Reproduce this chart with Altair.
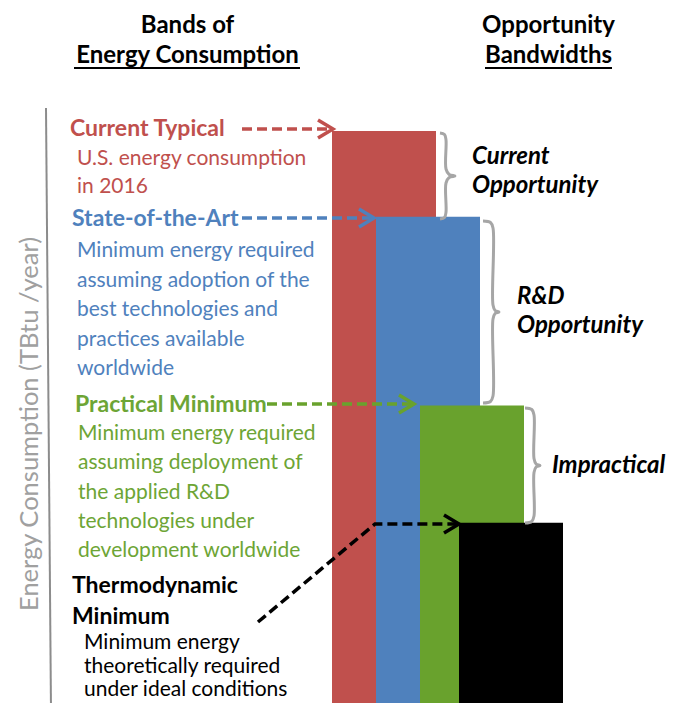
import altair as alt
import pandas as pd

# ---------------- data ----------------
bands = ["Current Typical", "State-of-the-Art", "Practical Minimum", "Thermodynamic Minimum"]
levels = [100, 85, 52, 31.5]          # relative energy consumption (Current Typical = 100)
band_colors = ["#C0504D", "#4F81BD", "#69A22D", "#000000"]
text_colors = ["#C0504D", "#4F81BD", "#6DA535", "#000000"]
band_label_lines = [["Current Typical"], ["State-of-the-Art"], ["Practical Minimum"],
                    ["Thermodynamic", "Minimum"]]
descriptions = [
    ["U.S. energy consumption", "in 2016"],
    ["Minimum energy required", "assuming adoption of the", "best technologies and",
     "practices available", "worldwide"],
    ["Minimum energy required", "assuming deployment of", "the applied R&D",
     "technologies under", "development worldwide"],
    ["Minimum energy", "theoretically required", "under ideal conditions"],
]
opportunities = [["Current", "Opportunity"], ["R&D", "Opportunity"], ["Impractical"]]
headings = [["Bands of", "Energy Consumption"], ["Opportunity", "Bandwidths"]]
axis_title = "Energy Consumption (TBtu /year)"

# ---------------- layout ----------------
FONT = "Lato"
OX, OY = 48, 108            # page position of plot origin
W, H = 623, 595
PX_PER = 5.72               # pixels per level unit
YMAX = H / PX_PER
BAR_LEFT = [332, 376, 420, 459]
BAR_W = 104


def px(x):
    return x - OX


def lv(y):
    return (OY + H - y) / PX_PER


xs = alt.Scale(domain=[0, W], nice=False, zero=False)
ys = alt.Scale(domain=[0, YMAX], nice=False, zero=False)

# bars
bars_df = pd.DataFrame({
    "band": bands,
    "level": levels,
    "base": [0] * 4,
    "x0": [px(b) for b in BAR_LEFT],
    "x1": [px(b) + BAR_W for b in BAR_LEFT],
    "color": band_colors,
})
bars = alt.Chart(bars_df).mark_rect().encode(
    x=alt.X("x0:Q", scale=xs, axis=None),
    x2="x1:Q",
    y=alt.Y("level:Q", scale=ys, axis=None),
    y2="base:Q",
    color=alt.Color("color:N", scale=None),
)

# vertical axis line (slightly slanted as in the original) and its title
axis_df = pd.DataFrame({"x0": [px(46)], "x1": [px(51)], "y0": [lv(108)], "y1": [lv(711)]})
axis_line = alt.Chart(axis_df).mark_rule(color="#8C8C8C", strokeWidth=2).encode(
    x=alt.X("x0:Q", scale=xs, axis=None), x2="x1:Q",
    y=alt.Y("y0:Q", scale=ys, axis=None), y2="y1:Q")
axis_txt_df = pd.DataFrame({"text": [axis_title], "x": [px(30)], "y": [lv(424)]})
axis_text = alt.Chart(axis_txt_df).mark_text(
    font=FONT, fontSize=25.5, angle=270, align="center", baseline="middle",
    color="#A0A0A0").encode(
    x=alt.X("x:Q", scale=xs, axis=None),
    y=alt.Y("y:Q", scale=ys, axis=None),
    text="text:N")


def text_layer(rows, **mark):
    df = pd.DataFrame(rows, columns=["text", "x", "y", "color"])
    return alt.Chart(df).mark_text(font=FONT, baseline="alphabetic", **mark).encode(
        x=alt.X("x:Q", scale=xs, axis=None),
        y=alt.Y("y:Q", scale=ys, axis=None),
        text="text:N",
        color=alt.Color("color:N", scale=None),
    )


# band labels (bold)
label_pos = [(70, [136]), (72, [226]), (75, [412]), (72, [593, 624])]
rows = []
for i, lines in enumerate(band_label_lines):
    x0, ys_ = label_pos[i]
    for ln, yy in zip(lines, ys_):
        rows.append((ln, px(x0), lv(yy), text_colors[i]))
band_labels = text_layer(rows, align="left", fontSize=23, fontWeight="bold")

# descriptions (regular)
desc_pos = [(77, 165, 28), (77, 257, 29.5), (78, 440, 29.25), (84, 649, 23.5)]
rows = []
for i, lines in enumerate(descriptions):
    x0, y0, dy = desc_pos[i]
    for j, ln in enumerate(lines):
        rows.append((ln, px(x0), lv(y0 + j * dy), text_colors[i]))
desc = text_layer(rows, align="left", fontSize=21)

# headings
head_pos = [(187.5, [33, 63]), (548.5, [33, 63])]
rows = []
for i, lines in enumerate(headings):
    x0, ys_ = head_pos[i]
    for ln, yy in zip(lines, ys_):
        rows.append((ln, px(x0), lv(yy), "#000000"))
heads = text_layer(rows, align="center", fontSize=24, fontWeight="bold")

under_df = pd.DataFrame({"x0": [px(74), px(485)], "x1": [px(300), px(612)],
                         "y": [lv(68), lv(68)]})
underline = alt.Chart(under_df).mark_rule(color="#000000", strokeWidth=2).encode(
    x=alt.X("x0:Q", scale=xs, axis=None), x2="x1:Q",
    y=alt.Y("y:Q", scale=ys, axis=None))

# opportunity labels (bold italic)
opp_pos = [(472, [164, 193]), (517, [304, 333]), (552, [473])]
rows = []
for i, lines in enumerate(opportunities):
    x0, ys_ = opp_pos[i]
    for ln, yy in zip(lines, ys_):
        rows.append((ln, px(x0), lv(yy), "#000000"))
opp = text_layer(rows, align="left", fontSize=24, fontWeight="bold", fontStyle="italic")

# dashed arrows
arrow_paths = [
    [(242, 129), (331, 129)],
    [(242, 218), (372, 218)],
    [(267, 404), (412, 404)],
    [(258, 622), (375, 524), (457, 524)],
]
rows = []
for i, pts in enumerate(arrow_paths):
    for k, (x, y) in enumerate(pts):
        rows.append({"id": i, "k": k, "x": px(x), "y": lv(y), "color": band_colors[i]})
arrow_df = pd.DataFrame(rows)
arrows = alt.Chart(arrow_df).mark_line(strokeWidth=3.5, strokeDash=[10, 5]).encode(
    x=alt.X("x:Q", scale=xs, axis=None),
    y=alt.Y("y:Q", scale=ys, axis=None),
    detail="id:N", order="k:Q",
    color=alt.Color("color:N", scale=None),
)
tips = [(333, 129), (374, 218), (414, 404), (459, 524)]
tip_df = pd.DataFrame({"x": [px(t[0]) for t in tips], "y": [lv(t[1]) for t in tips],
                       "color": band_colors})
heads_pts = alt.Chart(tip_df).mark_point(
    shape="M -1 -0.6 L 0 0 L -1 0.6", size=900, filled=False, strokeWidth=3.5,
    opacity=1).encode(
    x=alt.X("x:Q", scale=xs, axis=None),
    y=alt.Y("y:Q", scale=ys, axis=None),
    color=alt.Color("color:N", scale=None),
)

# braces
brace_specs = [(440, 6, 15, 133, 219), (483, 10, 16, 221, 403), (525, 9, 15, 408, 523)]
rows = []
for i, (e, dv, dt, t, b) in enumerate(brace_specs):
    m = (t + b) / 2
    pts = [(e, t), (e + dv * 0.75, t + 1.5), (e + dv, t + 7), (e + dv, m - 7),
           (e + dv + (dt - dv) * 0.35, m - 1.5), (e + dt, m),
           (e + dv + (dt - dv) * 0.35, m + 1.5), (e + dv, m + 7), (e + dv, b - 7),
           (e + dv * 0.75, b - 1.5), (e, b)]
    for k, (x, y) in enumerate(pts):
        rows.append({"id": i, "k": k, "x": px(x), "y": lv(y)})
brace_df = pd.DataFrame(rows)
braces = alt.Chart(brace_df).mark_line(color="#A6A6A6", strokeWidth=3,
                                       interpolate="catmull-rom").encode(
    x=alt.X("x:Q", scale=xs, axis=None),
    y=alt.Y("y:Q", scale=ys, axis=None),
    detail="id:N", order="k:Q",
)

chart = alt.layer(
    bars, axis_line, axis_text, braces, arrows, heads_pts, band_labels, desc, heads,
    underline, opp
).properties(
    width=W, height=H,
    autosize=alt.AutoSizeParams(type="none"),
    padding={"left": OX - 8, "top": OY - 8, "right": 0, "bottom": 0},
    background="white",
).configure_view(stroke=None)

chart.save("out.html", embed_options={"renderer": "svg", "actions": False})
